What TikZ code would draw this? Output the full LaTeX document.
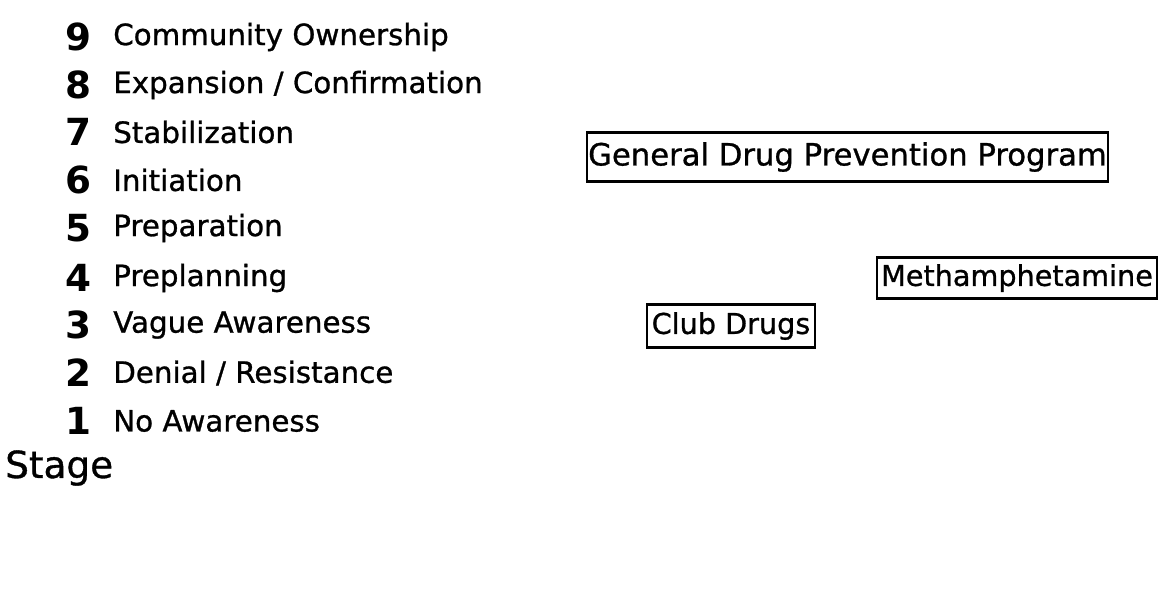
\documentclass[tikz,border=0pt]{standalone}
\usepackage{fontspec}
\setmainfont{DejaVu Sans}
\newfontfamily\comicish[FakeBold=0.9]{DejaVu Sans}
\begin{document}
\begin{tikzpicture}[x=0.75pt,y=-0.75pt,
  num/.style={anchor=west,inner sep=0pt,font=\fontsize{28}{28}\selectfont\bfseries},
  lbl/.style={anchor=west,inner sep=0pt,font=\comicish\fontsize{22}{22}\selectfont},
  prog/.style={draw,line width=1.8pt,inner sep=0pt,align=center,font=\comicish\fontsize{21.5}{21.5}\selectfont}]
\useasboundingbox (0,0) rectangle (1163,594);
\node[num] (n9) at (65,37) {9}; \node[lbl] (s9) at (113,37) {Community Ownership};
\node[num] (n8) at (65,85) {8}; \node[lbl] (s8) at (113,85) {Expansion / Confirmation};
\node[num] (n7) at (65,132) {7}; \node[lbl] (s7) at (113,132) {Stabilization};
\node[num] (n6) at (65,180) {6}; \node[lbl] (s6) at (113,180) {Initiation};
\node[num] (n5) at (65,228) {5}; \node[lbl] (s5) at (113,228) {Preparation};
\node[num] (n4) at (65,278) {4}; \node[lbl] (s4) at (113,278) {Preplanning};
\node[num] (n3) at (65,325) {3}; \node[lbl] (s3) at (113,325) {Vague Awareness};
\node[num] (n2) at (65,373) {2}; \node[lbl] (s2) at (113,373) {Denial / Resistance};
\node[num] (n1) at (65,421) {1}; \node[lbl] (s1) at (113,421) {No Awareness};
\node[anchor=west,inner sep=0pt,font=\comicish\fontsize{28}{28}\selectfont] (stage) at (5,468) {Stage};
\node[prog,minimum width=391pt,minimum height=37pt,font=\comicish\fontsize{23}{23}\selectfont] (gen) at (847.5,157) {General Drug Prevention Program};
\node[prog,minimum width=210pt,minimum height=31pt] (meth) at (1017,278) {Methamphetamine};
\node[prog,minimum width=126pt,minimum height=32pt] (club) at (731,326) {Club Drugs};
\end{tikzpicture}
\end{document}
